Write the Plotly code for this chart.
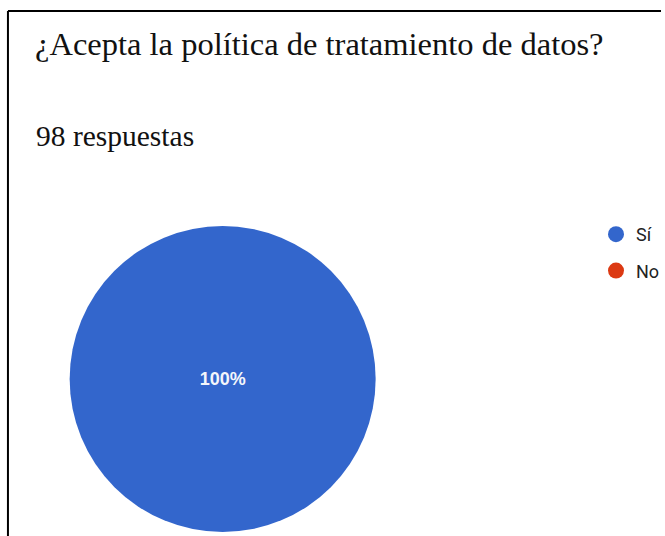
import plotly.graph_objects as go

# Survey answers
labels = ["Sí", "No"]
counts = [98, 0]
colors = ["#3366cc", "#dc3912"]
question = "¿Acepta la política de tratamiento de datos?"
total_text = f"{sum(counts)} respuestas"

W, H = 665, 536

fig = go.Figure()

fig.add_trace(go.Pie(
    labels=labels,
    values=counts,
    marker=dict(colors=colors, line=dict(width=0)),
    sort=False,
    direction="clockwise",
    textinfo="percent",
    texttemplate="<b>%{percent:.0%}</b>",
    textposition="inside",
    insidetextfont=dict(family="Liberation Sans, Arial, sans-serif", size=18, color="#f4f6fb"),
    showlegend=False,
    hoverinfo="label+value+percent",
    domain=dict(x=[(224 - 154) / W, (224 + 154) / W],
                y=[(H - 379 - 153) / H, (H - 379 + 153) / H]),
))

# Legend entries with round markers, one group each so they can be spaced apart
for lab, col in zip(labels, colors):
    fig.add_trace(go.Scatter(
        x=[None], y=[None], mode="markers", name=lab, legendgroup=lab,
        marker=dict(symbol="circle", size=18, color=col),
        showlegend=True,
    ))

fig.update_layout(
    width=W, height=H,
    margin=dict(l=0, r=0, t=0, b=0),
    paper_bgcolor="white",
    plot_bgcolor="white",
    xaxis=dict(visible=False),
    yaxis=dict(visible=False),
    legend=dict(
        x=600 / W, y=1 - 216 / H, xanchor="left", yanchor="top",
        font=dict(family="Roboto, Arial, sans-serif", size=18, color="#222222"),
        itemwidth=30, tracegroupgap=10, bgcolor="rgba(0,0,0,0)",
    ),
    annotations=[
        dict(text=question, x=33 / W, y=1 - 44 / H, xref="paper", yref="paper",
             xanchor="left", yanchor="middle", showarrow=False,
             font=dict(family="Liberation Serif, Times New Roman, serif", size=32.5, color="#111111")),
        dict(text=total_text, x=34 / W, y=1 - 136 / H, xref="paper", yref="paper",
             xanchor="left", yanchor="middle", showarrow=False,
             font=dict(family="Liberation Serif, Times New Roman, serif", size=29.5, color="#111111")),
    ],
    shapes=[
        dict(type="line", xref="paper", yref="paper", x0=8 / W, x1=1, y0=1 - 11 / H, y1=1 - 11 / H,
             line=dict(color="black", width=2)),
        dict(type="line", xref="paper", yref="paper", x0=8 / W, x1=8 / W, y0=0, y1=1 - 11 / H,
             line=dict(color="black", width=2)),
    ],
)

fig.write_html("out.html")
